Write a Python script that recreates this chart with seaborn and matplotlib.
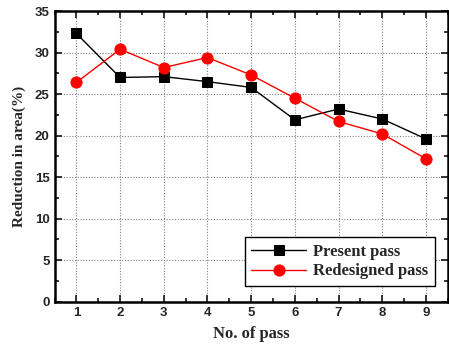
import numpy as np
import pandas as pd
import matplotlib.pyplot as plt
from matplotlib.ticker import MultipleLocator
import seaborn as sns

passes = [1, 2, 3, 4, 5, 6, 7, 8, 9]
present = [32.3, 27.0, 27.1, 26.5, 25.8, 21.9, 23.2, 22.0, 19.6]
redesigned = [26.4, 30.4, 28.2, 29.4, 27.3, 24.5, 21.7, 20.2, 17.2]

sns.set_style('ticks')
plt.rcParams['font.family'] = ['Liberation Sans', 'DejaVu Sans']

fig = plt.figure(figsize=(4.49, 3.45), dpi=100)
ax = fig.add_axes([0.1214, 0.1255, 0.876, 0.8425])

sns.lineplot(x=passes, y=present, ax=ax, color='black', lw=1, marker='s',
             markersize=7.5, markeredgecolor='black', label='Present pass')
sns.lineplot(x=passes, y=redesigned, ax=ax, color='red', lw=1, marker='o',
             markersize=8, markeredgecolor='red', label='Redesigned pass')

ax.set_xlim(0.5, 9.5)
ax.set_ylim(0, 35)
ax.xaxis.set_major_locator(MultipleLocator(1))
ax.xaxis.set_minor_locator(MultipleLocator(0.5))
ax.yaxis.set_major_locator(MultipleLocator(5))
ax.yaxis.set_minor_locator(MultipleLocator(2.5))
ax.tick_params(which='both', direction='in', top=True, right=True, width=1.3)
ax.tick_params(which='major', length=5, labelsize=9.5)
ax.tick_params(which='minor', length=3)
for lab in ax.get_xticklabels() + ax.get_yticklabels():
    lab.set_fontweight('bold')
ax.grid(True, which='major', color='gray', linestyle=(0, (1, 1.5)), lw=0.8)
for s in ax.spines.values():
    s.set_linewidth(1.8)
    s.set_color('black')

ax.set_xlabel('No. of pass', family=['Liberation Serif'], fontweight='bold',
              fontsize=12, labelpad=5)
ax.set_ylabel('Reduction in area(%)', family=['Liberation Serif'], fontweight='bold',
              fontsize=11, labelpad=6)

leg = ax.legend(loc='lower right', bbox_to_anchor=(0.967, 0.054), borderaxespad=0,
                fancybox=False, framealpha=1, edgecolor='black', borderpad=0.4,
                handlelength=3.3, handletextpad=0.4, labelspacing=0.2,
                prop={'family': 'Liberation Serif', 'weight': 'bold', 'size': 12})
leg.get_frame().set_linewidth(1.0)

fig.savefig('out.png', dpi=100)
